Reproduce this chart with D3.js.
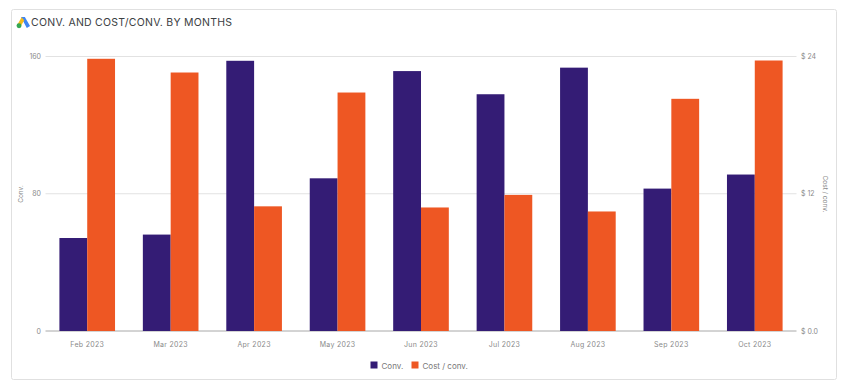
<!DOCTYPE html>
<html>
<head>
<meta charset="utf-8">
<script src="https://cdn.jsdelivr.net/npm/d3@7/dist/d3.min.js"></script>
<style>
  html, body { margin: 0; padding: 0; background: #fff; overflow: hidden; }
  text { font-family: Inter, "Noto Sans", sans-serif; }
</style>
</head>
<body>
<div id="chart"></div>
<script>
const months = ["Feb 2023", "Mar 2023", "Apr 2023", "May 2023", "Jun 2023", "Jul 2023", "Aug 2023", "Sep 2023", "Oct 2023"];
const conv = [54.2, 56.2, 157.5, 89, 151.5, 138, 153.5, 83, 91.2];
const costPerConv = [23.8, 22.6, 10.9, 20.85, 10.8, 11.9, 10.45, 20.3, 23.65];
const convTicks = [0, 80, 160];
const costTicks = [0, 12, 24];
const costTickLabels = ["$ 0.0", "$ 12", "$ 24"];
const seriesNames = ["Conv.", "Cost / conv."];
const seriesColors = ["#341c75", "#ee5723"];

const width = 847, height = 391;
const margin = { top: 56.5, right: 50.5, bottom: 60, left: 45.5 };
const gray = "#8a8a8a";

const svg = d3.select("#chart").append("svg")
  .attr("width", width)
  .attr("height", height)
  .style("display", "block");

// card
svg.append("rect")
  .attr("x", 11.5).attr("y", 9.5)
  .attr("width", 825).attr("height", 370)
  .attr("rx", 2)
  .attr("fill", "#fff")
  .attr("stroke", "#e0e0e0");

// ads logo
const logo = svg.append("g").attr("transform", "translate(16,16) scale(1.08)");
logo.append("path").attr("d", "M4.6 1 L8.2 1 L13 9.2 L10 11 Z").attr("fill", "#3f86f2");
logo.append("path").attr("d", "M5.2 1.2 L1.6 7.4 L4.4 9.4 L7.6 4 Z").attr("fill", "#f6bc19");
logo.append("circle").attr("cx", 2.8).attr("cy", 9).attr("r", 2.3).attr("fill", "#35a853");

svg.append("text")
  .attr("x", 31).attr("y", 26)
  .attr("font-size", 10.5)
  .attr("letter-spacing", 0.26)
  .attr("fill", "#3c4043")
  .text("CONV. AND COST/CONV. BY MONTHS");

const x = d3.scaleBand()
  .domain(months)
  .range([margin.left, width - margin.right])
  .paddingInner(1 / 3)
  .paddingOuter(1 / 6);

const yConv = d3.scaleLinear()
  .domain([0, 160])
  .range([height - margin.bottom, margin.top]);

const yCost = d3.scaleLinear()
  .domain([0, 24])
  .range([height - margin.bottom, margin.top]);

// gridlines
svg.append("g").selectAll("line")
  .data(convTicks)
  .enter().append("line")
  .attr("x1", margin.left)
  .attr("x2", width - margin.right)
  .attr("y1", d => yConv(d))
  .attr("y2", d => yConv(d))
  .attr("stroke", d => d === 0 ? "#a8a8a8" : "#e2e2e2");

// left axis labels
svg.append("g").selectAll("text")
  .data(convTicks)
  .enter().append("text")
  .attr("x", 41)
  .attr("y", d => yConv(d) + 2.5)
  .attr("text-anchor", "end")
  .attr("font-size", 7)
  .attr("fill", gray)
  .text(d => d);

// right axis labels
svg.append("g").selectAll("text")
  .data(costTicks)
  .enter().append("text")
  .attr("x", 801)
  .attr("y", d => yCost(d) + 2.5)
  .attr("font-size", 7)
  .attr("fill", gray)
  .text((d, i) => costTickLabels[i]);

// month labels
svg.append("g").selectAll("text")
  .data(months)
  .enter().append("text")
  .attr("x", d => x(d) + x.bandwidth() / 2)
  .attr("y", 347)
  .attr("text-anchor", "middle")
  .attr("font-size", 7)
  .attr("letter-spacing", 0.3)
  .attr("fill", gray)
  .text(d => d);

// axis titles
svg.append("text")
  .attr("transform", "translate(23,194) rotate(-90)")
  .attr("text-anchor", "middle")
  .attr("font-size", 6.5)
  .attr("fill", gray)
  .text("Conv.");

svg.append("text")
  .attr("transform", "translate(823,194) rotate(90)")
  .attr("text-anchor", "middle")
  .attr("font-size", 6.5)
  .attr("fill", gray)
  .text("Cost / conv.");

// bars
svg.append("g").selectAll("rect")
  .data(months)
  .enter().append("rect")
  .attr("x", d => x(d))
  .attr("y", (d, i) => yConv(conv[i]))
  .attr("width", x.bandwidth() / 2)
  .attr("height", (d, i) => yConv(0) - yConv(conv[i]))
  .attr("fill", seriesColors[0]);

svg.append("g").selectAll("rect")
  .data(months)
  .enter().append("rect")
  .attr("x", d => x(d) + x.bandwidth() / 2)
  .attr("y", (d, i) => yCost(costPerConv[i]))
  .attr("width", x.bandwidth() / 2)
  .attr("height", (d, i) => yCost(0) - yCost(costPerConv[i]))
  .attr("fill", seriesColors[1]);

// legend
const legendX = [370.5, 411.5];
const legend = svg.append("g").selectAll("g")
  .data(seriesNames)
  .enter().append("g")
  .attr("transform", (d, i) => `translate(${legendX[i]},361.5)`);

legend.append("rect")
  .attr("width", 7).attr("height", 7)
  .attr("fill", (d, i) => seriesColors[i]);

legend.append("text")
  .attr("x", 11).attr("y", 7)
  .attr("font-size", 8)
  .attr("fill", "#777")
  .text(d => d);
</script>
</body>
</html>
